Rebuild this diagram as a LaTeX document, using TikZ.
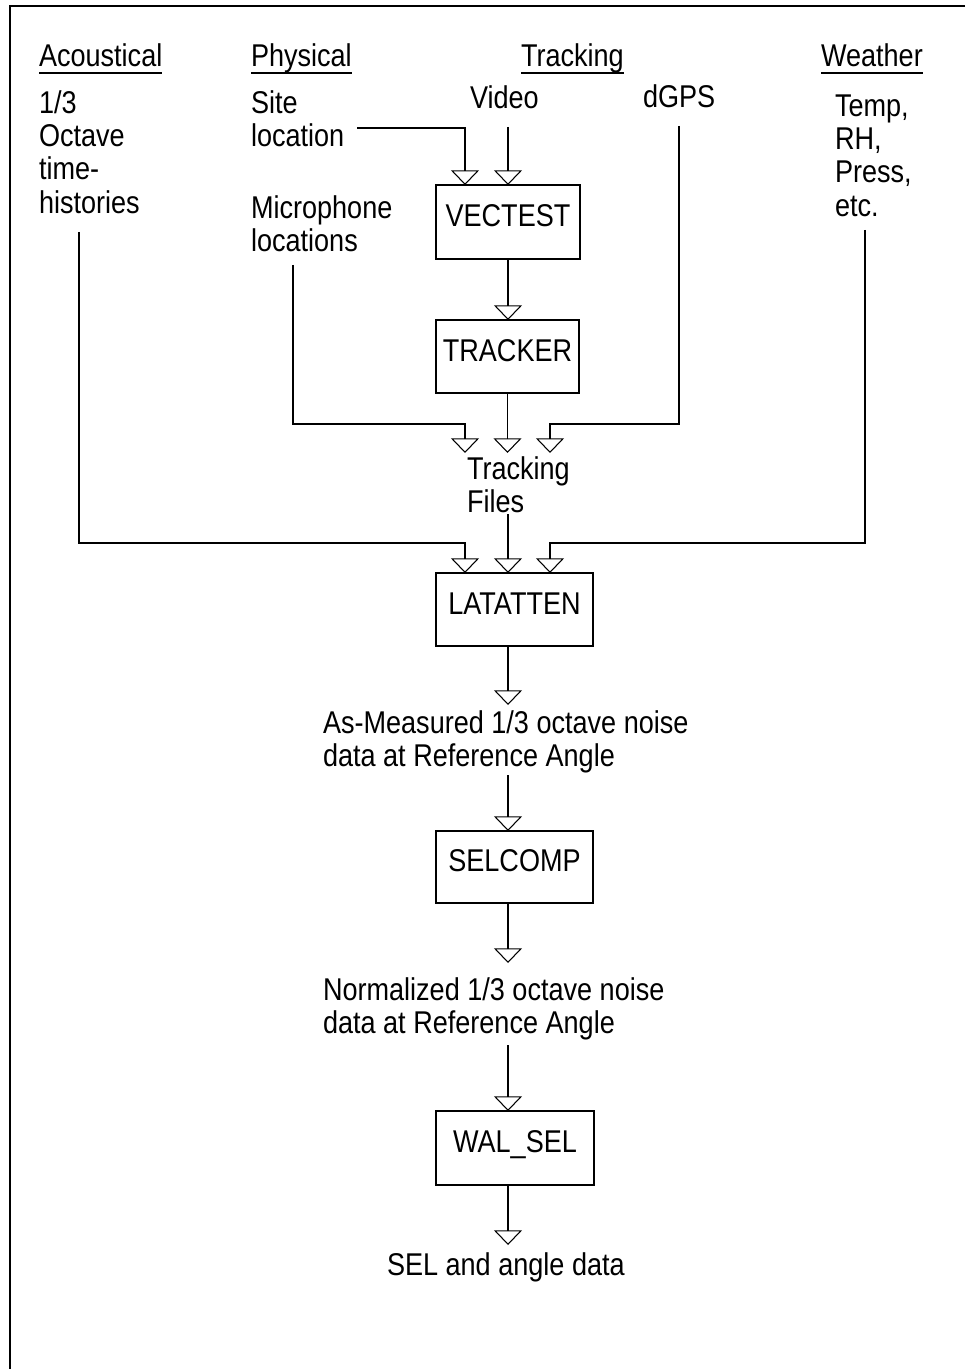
\documentclass[tikz,border=0pt]{standalone}
\usepackage{fontspec}
\setmainfont{Liberation Sans}[FakeStretch=0.86]
\usetikzlibrary{arrows.meta}
\begin{document}
\begin{tikzpicture}[x=0.75pt,y=-0.75pt,
  every node/.style={inner sep=0pt, outer sep=0pt, font=\fontsize{23.6pt}{25pt}\selectfont},
  txt/.style={align=left, anchor=north west},
  hdr/.style={anchor=base west},
  prog/.style={draw, line width=0.8pt, anchor=north west, text height=17pt, text depth=10pt},
  wire/.style={line width=0.8pt},
  arr/.style={wire, -{Triangle[open, width=21pt, length=11pt, line width=0.8pt]}, line join=miter},
  uline/.style={line width=1.1pt}]
\useasboundingbox (0,0) rectangle (965,1369);
% frame
\draw[line width=0.9pt] (965,6) -- (10,6) -- (10,1369);

% headers
\node[hdr] (hA) at (39,67) {Acoustical};
\node[hdr] (hP) at (251,67) {Physical};
\node[hdr] (hT) at (521,67) {Tracking};
\node[hdr] (hW) at (821,67) {Weather};
\foreach \h in {hA,hP,hT,hW}
  \draw[uline] ([yshift=-4.5pt]\h.base west) -- ([yshift=-4.5pt]\h.base east);

% source texts
\node[txt] (acdata) at (39,90.4) {1/3\\Octave\\time-\\histories};
\node[txt] (site) at (251,90.4) {Site\\location};
\node[hdr] (video) at (470,109) {Video};
\node[hdr] (dgps) at (643,108) {dGPS};
\node[txt] (wxdata) at (835,94.4) {Temp,\\RH,\\Press,\\etc.};
\node[txt] (mic) at (251,195.4) {Microphone\\locations};

% program boxes
\node[prog, minimum width=108pt, minimum height=55.5pt] (vectest) at (436,185) {VECTEST};
\node[prog, minimum width=107.25pt, minimum height=54.75pt] (tracker) at (436,320) {TRACKER};
\node[prog, minimum width=117.75pt, minimum height=54.75pt] (latatten) at (436,573) {LATATTEN};
\node[prog, minimum width=117.75pt, minimum height=54pt] (selcomp) at (436,831) {SELCOMP};
\node[prog, minimum width=118.5pt, minimum height=55.5pt] (walsel) at (436,1111) {WAL\_SEL};

% intermediate texts
\node[txt] (tf) at (467,456.4) {Tracking\\Files};
\node[txt] (am) at (323,710.4) {As-Measured 1/3 octave noise\\data at Reference Angle};
\node[txt] (norm) at (323,977.4) {Normalized 1/3 octave noise\\data at Reference Angle};
\node[hdr] (sel) at (387,1275) {SEL and angle data};

% helper coordinates
\coordinate (colL) at (465,0);
\coordinate (colM) at (508,0);
\coordinate (colR) at (550,0);
\coordinate (rowH1) at (0,424);
\coordinate (rowTF) at (0,453);
\coordinate (rowH2) at (0,543);
\coordinate (rowAM) at (0,705);
\coordinate (rowNO) at (0,963);
\coordinate (rowSE) at (0,1245);
\coordinate (sitec) at (357,128);
\coordinate (videoc) at (508,127);
\coordinate (gpsc) at (679,126);
\coordinate (micc) at (293,265);
\coordinate (acc) at (79,232);
\coordinate (wxc) at (865,230);
\coordinate (filesc) at (508,514);
\coordinate (amc) at (508,775);
\coordinate (normc) at (508,1045);

% connectors
\draw[arr] (sitec) -| (vectest.north -| colL);
\draw[arr] (videoc) -- (videoc |- vectest.north);
\draw[arr] (vectest.south) -- (vectest.south |- tracker.north);
\draw[arr] (micc) |- (colL |- rowH1) -- (colL |- rowTF);
\draw[arr] (tracker.south) -- (tracker.south |- rowTF);
\draw[arr] (gpsc) |- (colR |- rowH1) -- (colR |- rowTF);
\draw[arr] (filesc) -- (filesc |- latatten.north);
\draw[arr] (acc) |- (colL |- rowH2) -- (colL |- latatten.north);
\draw[arr] (wxc) |- (colR |- rowH2) -- (colR |- latatten.north);
\draw[arr] (latatten.south -| colM) -- (colM |- rowAM);
\draw[arr] (amc) -- (amc |- selcomp.north);
\draw[arr] (selcomp.south -| colM) -- (colM |- rowNO);
\draw[arr] (normc) -- (normc |- walsel.north);
\draw[arr] (walsel.south -| colM) -- (colM |- rowSE);
\end{tikzpicture}
\end{document}
